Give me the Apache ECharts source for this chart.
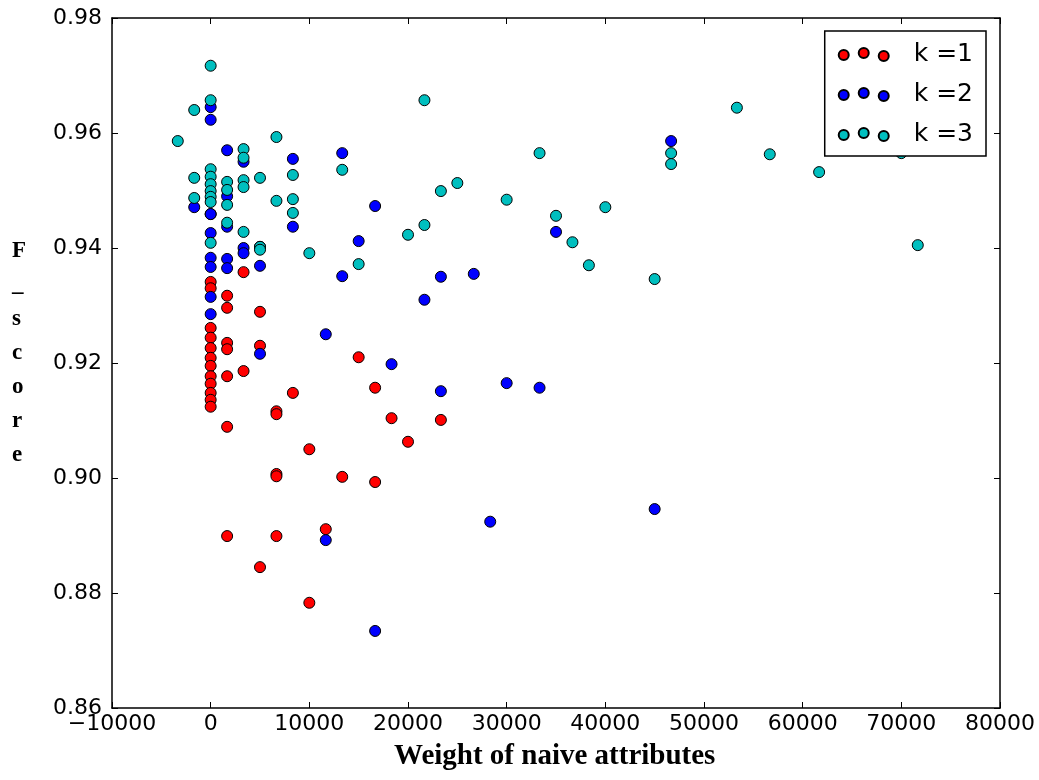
<!DOCTYPE html>
<html><head><meta charset="utf-8">
<script src="https://cdn.jsdelivr.net/npm/echarts@6/dist/echarts.min.js"></script>
<style>html,body{margin:0;padding:0;background:#fff}#c{width:1039px;height:780px}</style>
</head><body><div id="c"></div>
<script>
const seriesNames = ['k =1', 'k =2', 'k =3'];
const k1 = [
 [0,0.9459],[0,0.9341],[0,0.9330],[0,0.9261],[0,0.9244],[0,0.9226],[0,0.9209],[0,0.9195],[0,0.9177],[0,0.9164],[0,0.9148],[0,0.9136],[0,0.9124],
 [1667,0.9317],[1667,0.9296],[1667,0.9235],[1667,0.9224],[1667,0.9177],[1667,0.9089],[1667,0.8899],
 [3333,0.9358],[3333,0.9186],
 [5000,0.9289],[5000,0.9230],[5000,0.8845],
 [6667,0.9116],[6667,0.9111],[6667,0.9007],[6667,0.9003],[6667,0.8899],
 [8333,0.9148],[10000,0.9050],[10000,0.8783],[11667,0.8911],[13333,0.9002],[15000,0.9210],
 [16667,0.9157],[16667,0.8993],[18333,0.9104],[20000,0.9063],[23333,0.9101]
];
const k2 = [
 [-1667,0.9471],
 [0,0.9645],[0,0.9623],[0,0.9459],[0,0.9426],[0,0.9383],[0,0.9367],[0,0.9315],[0,0.9285],
 [1667,0.9570],[1667,0.9490],[1667,0.9437],[1667,0.9381],[1667,0.9365],
 [3333,0.9550],[3333,0.9400],[3333,0.9391],
 [5000,0.9402],[5000,0.9369],[5000,0.9216],
 [8333,0.9555],[8333,0.9437],[11667,0.9250],[11667,0.8892],[13333,0.9565],[13333,0.9351],
 [15000,0.9412],[16667,0.9473],[16667,0.8734],[18333,0.9198],[21667,0.9310],
 [23333,0.9350],[23333,0.9151],[26667,0.9355],[28333,0.8924],[30000,0.9165],[33333,0.9157],
 [35000,0.9428],[45000,0.8946],[46667,0.9586]
];
const k3 = [
 [-3333,0.9586],[-1667,0.9640],[-1667,0.9522],[-1667,0.9487],
 [0,0.9717],[0,0.9657],[0,0.9537],[0,0.9524],[0,0.9511],[0,0.9499],[0,0.9489],[0,0.9480],[0,0.9409],
 [1667,0.9515],[1667,0.9501],[1667,0.9475],[1667,0.9444],
 [3333,0.9572],[3333,0.9557],[3333,0.9518],[3333,0.9506],[3333,0.9428],
 [5000,0.9522],[5000,0.9402],[5000,0.9397],
 [6667,0.9593],[6667,0.9482],[8333,0.9527],[8333,0.9485],[8333,0.9461],
 [10000,0.9391],[13333,0.9536],[15000,0.9372],[20000,0.9423],[21667,0.9657],[21667,0.9440],
 [23333,0.9499],[25000,0.9513],[30000,0.9484],[33333,0.9565],[35000,0.9456],[36667,0.9410],
 [38333,0.9370],[40000,0.9471],[45000,0.9346],[46667,0.9565],[46667,0.9546],[53333,0.9644],
 [56667,0.9563],[61667,0.9532],[70000,0.9565],[71667,0.9405]
];
const xRange = [-10000, 80000, 10000];
const yRange = [0.86, 0.98, 0.02];
const colors = ['#ff0000', '#0000ff', '#00bfbf'];

const chart = echarts.init(document.getElementById('c'), null, {renderer: 'canvas'});
const tickFont = {fontFamily: 'DejaVu Sans', fontSize: 22, color: '#000'};
const legendIcon = 'path://M0,8a5,5 0 1,0 10,0a5,5 0 1,0 -10,0Z M20,6a5,5 0 1,0 10,0a5,5 0 1,0 -10,0Z M40,9a5,5 0 1,0 10,0a5,5 0 1,0 -10,0Z';
function mkX(pos, show) {
  return {type: 'value', position: pos, min: xRange[0], max: xRange[1], interval: xRange[2],
    axisLine: {show: true, onZero: false, lineStyle: {color: '#000', width: 1.5}},
    axisTick: {show: true, inside: true, length: 6, lineStyle: {color: '#000', width: 1}},
    splitLine: {show: false},
    axisLabel: show ? Object.assign({margin: 5, formatter: v => String(v).replace('-', '\u2212')}, tickFont) : {show: false}};
}
function mkY(pos, show) {
  return {type: 'value', position: pos, min: yRange[0], max: yRange[1], interval: yRange[2],
    axisLine: {show: true, onZero: false, lineStyle: {color: '#000', width: 1.5}},
    axisTick: {show: true, inside: true, length: 6, lineStyle: {color: '#000', width: 1}},
    splitLine: {show: false},
    axisLabel: show ? Object.assign({margin: 10, formatter: v => v.toFixed(2)}, tickFont) : {show: false}};
}
const datasets = [k1, k2, k3];
chart.setOption({
  backgroundColor: '#fff',
  animation: false,
  grid: {left: 112, right: 39, top: 18, bottom: 72},
  xAxis: [mkX('bottom', true), mkX('top', false)],
  yAxis: [mkY('left', true), mkY('right', false)],
  legend: {
    right: 53, top: 31, orient: 'vertical',
    backgroundColor: '#fff', borderColor: '#000', borderWidth: 1.5,
    padding: [11, 13, 9, 13], itemGap: 15,
    itemWidth: 50, itemHeight: 14, icon: legendIcon,
    textStyle: {fontFamily: 'DejaVu Sans', fontSize: 25, color: '#000', padding: [0, 4, 0, 20]},
    data: seriesNames
  },
  series: datasets.map((d, i) => ({
    name: seriesNames[i], type: 'scatter', data: d, symbol: 'circle', symbolSize: 11,
    xAxisIndex: 0, yAxisIndex: 0,
    itemStyle: {color: colors[i], borderColor: '#000', borderWidth: 1, opacity: 1}
  })),
  graphic: [
    {type: 'text', left: 394, top: 742, style: {text: 'Weight of naive attributes', font: 'bold 29px "Liberation Serif"', fill: '#000'}},
    {type: 'text', left: 12, top: 234, style: {text: 'F\n_\ns\nc\no\nr\ne', font: 'bold 23px "Liberation Serif"', fill: '#000', lineHeight: 34, align: 'center'}}
  ]
});
</script></body></html>
